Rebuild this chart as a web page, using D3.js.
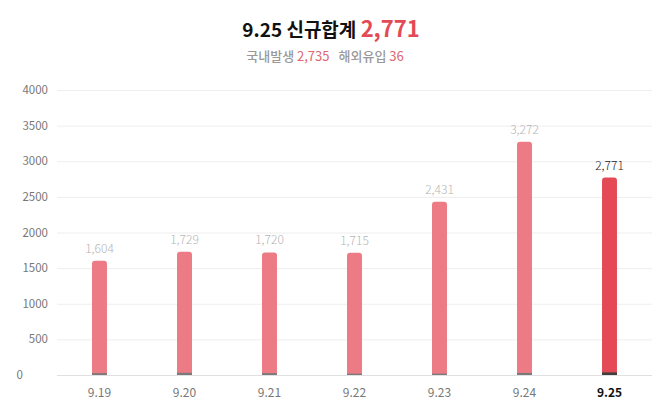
<!DOCTYPE html>
<html><head><meta charset="utf-8">
<script src="https://cdn.jsdelivr.net/npm/d3@7/dist/d3.min.js"></script>
<style>body{margin:0;background:#fff;}svg{display:block;font-family:"Noto Sans CJK KR","Noto Sans",sans-serif;}</style>
</head><body>
<svg id="c" width="663" height="412"></svg>
<script>
const categories = ["9.19","9.20","9.21","9.22","9.23","9.24","9.25"];
const totals = [1604,1729,1720,1715,2431,3272,2771];
const imported = [26,31,26,18,19,29,36];
const yTicks = [0,500,1000,1500,2000,2500,3000,3500,4000];
const titleDate = "9.25 신규합계 ";
const titleTotal = "2,771";
const subLocalLabel = "국내발생 ", subLocal = "2,735", subImpLabel = "해외유입 ", subImp = "36";

const svg = d3.select("#c");
const x = d3.scaleBand().domain(categories).range([57,652]).paddingInner(0.824).paddingOuter(0.412);
const y = d3.scaleLinear().domain([0,4000]).range([375,90]);
const fmt = d3.format(",");
const last = categories.length-1;

// title
const t = svg.append("text").attr("x",331).attr("y",37).attr("text-anchor","middle")
  .style("font-size","19px").style("font-weight","bold");
t.append("tspan").attr("fill","#111").text(titleDate);
t.append("tspan").attr("fill","#e34a55").style("font-size","22px").text(titleTotal);
const s = svg.append("text").attr("x",325).attr("y",61).attr("text-anchor","middle").style("font-size","13px");
s.append("tspan").attr("fill","#999").style("font-weight","500").text(subLocalLabel);
s.append("tspan").attr("fill","#e06670").text(subLocal);
s.append("tspan").attr("fill","#999").style("font-weight","500").attr("dx",9).text(subImpLabel);
s.append("tspan").attr("fill","#e06670").text(subImp);

// grid
svg.append("g").selectAll("line").data(yTicks).join("line")
  .attr("x1",57).attr("x2",652).attr("y1",d=>y(d)+0.5).attr("y2",d=>y(d)+0.5)
  .attr("stroke",d=>d===0?"#e0e0e0":"#eeeeee").attr("stroke-width",1);
svg.append("g").selectAll("text").data(yTicks).join("text")
  .attr("x",d=>d===0?23:48).attr("y",d=>y(d)).attr("dy","0.35em").attr("text-anchor","end")
  .attr("fill","#777").style("font-size","11.5px").text(d=>d);

// bars
const bw = x.bandwidth(), r = 3;
const g = svg.append("g");
categories.forEach((c,i)=>{
  const x0 = x(c), yt = y(totals[i]), yb = y(0);
  const path = `M${x0},${yb}V${yt+r}Q${x0},${yt} ${x0+r},${yt}H${x0+bw-r}Q${x0+bw},${yt} ${x0+bw},${yt+r}V${yb}Z`;
  g.append("path").attr("d",path).attr("fill", i===last?"#e34a55":"#ec7b85");
  g.append("rect").attr("x",x0).attr("width",bw).attr("y",y(imported[i])).attr("height",yb-y(imported[i]))
    .attr("fill", i===last?"#3f3f3f":"#7a7a7a");
  g.append("text").attr("x",x0+bw/2).attr("y",yt-8).attr("text-anchor","middle")
    .attr("fill", i===last?"#222":"#b5b5b5").style("font-size","12px").style("font-weight","300").text(fmt(totals[i]));
});

// x labels
svg.append("g").selectAll("text").data(categories).join("text")
  .attr("x",d=>x(d)+bw/2).attr("y",397).attr("text-anchor","middle")
  .attr("fill",(d,i)=>i===last?"#111":"#777").style("font-weight",(d,i)=>i===last?"bold":"normal")
  .style("font-size","12px").text(d=>d);
</script>
</body></html>
